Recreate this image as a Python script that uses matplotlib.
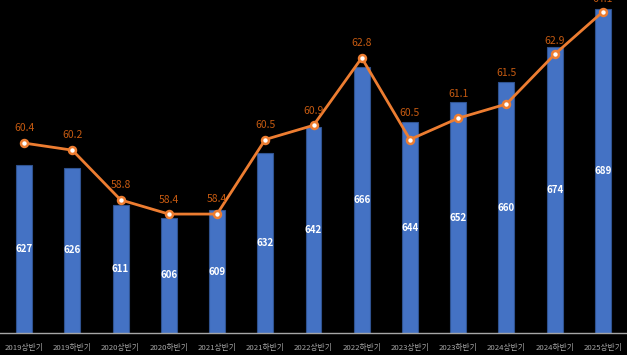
import matplotlib.pyplot as plt

plt.rcParams["font.family"] = ["Noto Sans CJK KR", "DejaVu Sans"]

periods = ["2019상반기", "2019하반기", "2020상반기", "2020하반기", "2021상반기",
           "2021하반기", "2022상반기", "2022하반기", "2023상반기", "2023하반기",
           "2024상반기", "2024하반기", "2025상반기"]
employed = [627, 626, 611, 606, 609, 632, 642, 666, 644, 652, 660, 674, 689]
rate = [60.4, 60.2, 58.8, 58.4, 58.4, 60.5, 60.9, 62.8, 60.5, 61.1, 61.5, 62.9, 64.1]

# label lift above each line point, in pixels (some raised to clear the bars)
label_lift = [15, 15, 15, 14, 15, 15, 14, 15, 27, 24, 31, 13, 13]

fig = plt.figure(figsize=(6.27, 3.55), dpi=100, facecolor="black")
ax = fig.add_axes([0, 0.062, 1, 0.938])
ax.set_facecolor("black")
x = range(len(periods))

bars = ax.bar(x, employed, width=0.33, color="#4472c4", edgecolor="#2f528f", linewidth=0.8)
ax.set_ylim(560.3, 692.6)
ax.set_xlim(-0.5, len(periods) - 0.5)
for b, v in zip(bars, employed):
    ax.text(b.get_x() + b.get_width() / 2, (560.3 + v) / 2, str(v),
            ha="center", va="center", color="white", fontsize=7, fontweight="bold")

ax.set_xticks(list(x))
ax.set_xticklabels(periods, color="#a6a6a6", fontsize=5.6)
ax.tick_params(axis="x", length=0, pad=8)
ax.set_yticks([])
for side in ["top", "left", "right"]:
    ax.spines[side].set_visible(False)
ax.spines["bottom"].set_color("#a6a6a6")
ax.spines["bottom"].set_linewidth(1)

ax2 = ax.twinx()
ax2.plot(x, rate, color="#ed7d31", linewidth=2, marker="o", markersize=5,
         markerfacecolor="white", markeredgecolor="#ed7d31", markeredgewidth=1.8)
ax2.set_ylim(55.05, 64.43)
ax2.set_yticks([])
for side in ["top", "left", "right", "bottom"]:
    ax2.spines[side].set_visible(False)
for xi, r, lift in zip(x, rate, label_lift):
    ax2.annotate(f"{r:.1f}", (xi, r), xytext=(0, lift), textcoords="offset pixels",
                 ha="center", va="center", color="#c55a11", fontsize=7.5)

fig.savefig("out.png", dpi=100, facecolor="black")
